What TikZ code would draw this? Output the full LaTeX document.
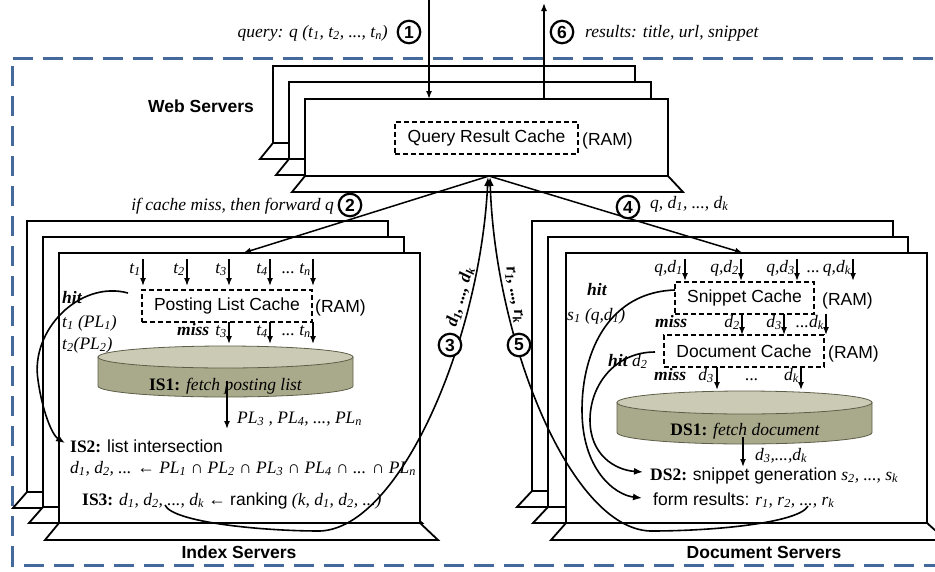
\documentclass[tikz,border=0pt]{standalone}
\usepackage{fontspec}
\setmainfont{Liberation Serif}
\setsansfont{Liberation Sans}
\usetikzlibrary{arrows.meta}
\newcommand\fs{\fontsize{17.5}{21}\selectfont}
\newcommand\lsub[1]{\textsubscript{#1}}
\definecolor{frameblue}{HTML}{44699A}
\definecolor{cyltop}{HTML}{CBCBB5}
\definecolor{cylside}{HTML}{A9A98B}
\definecolor{cyledge}{HTML}{5E5E48}
\tikzset{
  srv/.style={draw=black, fill=white, line width=1.8pt, line join=miter},
  bluedash/.style={draw=frameblue, line width=3pt, dash pattern=on 20pt off 10pt},
  cachebox/.style={draw=black, line width=1.6pt, dash pattern=on 5pt off 3pt, inner sep=0pt, font=\fs\sffamily},
  lab/.style={inner sep=0pt, font=\fs\itshape},
  blab/.style={inner sep=0pt, font=\fs\itshape\bfseries},
  sanslab/.style={inner sep=0pt, font=\fs\sffamily},
  srvtitle/.style={inner sep=0pt, font=\fs\sffamily\bfseries},
  circ/.style={circle, draw=black, line width=2.2pt, fill=white, inner sep=0pt, minimum size=22.5pt, font=\fs\sffamily\bfseries},
  arr/.style={line width=1.5pt, -{Latex[length=8pt,width=6pt]}},
  hitarr/.style={line width=1.6pt, -{Latex[length=9pt,width=7pt]}},
}
% x1 y1 x2 y2 dl dr h
\newcommand\srvbox[7]{%
  \path[srv] (#1,#4) -- ({#1-#5},{#4+#7}) -- ({#3+#6},{#4+#7}) -- (#3,#4) -- cycle;
  \path[srv] (#1,#2) rectangle (#3,#4);
}
% cx rx ytop ybot ry
\newcommand\cylshape[5]{%
  \path[fill=cylside, draw=cyledge, line width=0.8pt] ({#1-#2},#3) -- ({#1-#2},#4)
     arc[start angle=180, end angle=0, x radius=#2, y radius=#5] -- ({#1+#2},#3) -- cycle;
  \path[fill=cyltop, draw=cyledge, line width=0.8pt] (#1,#3) ellipse [x radius=#2, y radius=#5];
}
\begin{document}
\begin{tikzpicture}[x=1pt,y=-1pt]
\useasboundingbox (0,0) rectangle (935,571);
\clip (0,0) rectangle (935,571);

% outer frame
\draw[bluedash] (12.5,58.5) -- (960,58.5);
\draw[bluedash] (12.5,66) -- (12.5,565) -- (960,565);

% web servers
\srvbox{273}{66}{635}{143}{13}{15}{16}
\srvbox{289}{82}{651}{159}{13}{15}{16}
\srvbox{305}{99}{668}{176}{13}{15}{16}
% index servers
\srvbox{27}{221}{388}{492}{14}{18}{16}
\srvbox{43}{237}{404}{507}{14}{18}{16}
\srvbox{59}{253}{420}{523}{14}{18}{17}
% document servers
\srvbox{532}{221}{893}{491}{15}{19}{16}
\srvbox{548}{237}{908}{507}{15}{19}{16}
\srvbox{566}{253}{927}{523}{15}{19}{17}

% titles
\node[srvtitle, anchor=base west] (wslab) at (148,112) {Web Servers};
\node[srvtitle, anchor=base] (islab) at (239,558) {Index Servers};
\node[srvtitle, anchor=base] (dslab) at (764,558) {Document Servers};

% web server content
\node[cachebox, minimum width=183pt, minimum height=32pt] (qrc) at (486.5,138) {Query Result Cache};
\node[sanslab, anchor=base west] (qram) at (582,145) {(RAM)};

\coordinate (qin) at (429,-2);
\coordinate (wtop1) at (429,99);
\draw[arr] (qin) -- (wtop1);
\node[lab, anchor=base east] (qlab) at (388,37) {query: q (t\lsub{1}, t\lsub{2}, ..., t\lsub{n})};
\node[circ] (c1) at (409,32) {1};

\coordinate (wtop6) at (544,99);
\coordinate (rout) at (544,3);
\draw[arr] (wtop6) -- (rout);
\node[circ] (c6) at (562,32) {6};
\node[lab, anchor=base west] (rlab) at (585,37) {results: title, url, snippet};

\coordinate (wsb) at (489,176);
\coordinate (ist) at (243,253);
\coordinate (dst) at (743,253);
\draw[arr] (wsb) -- (ist);
\draw[arr] (wsb) -- (dst);
\node[circ] (c2) at (350,205) {2};
\node[lab, anchor=base east] (l2) at (334,210) {if cache miss, then forward q};
\node[circ] (c4) at (628,207) {4};
\node[lab, anchor=base west] (l4) at (650,208) {q, d\lsub{1}, ..., d\lsub{k}};

% ---------------- index server content
\node[cachebox, minimum width=170pt, minimum height=32pt] (plc) at (227,306) {Posting List Cache};
\node[sanslab, anchor=base west] (pram) at (315,312) {(RAM)};
\foreach \x [count=\i] in {143,187,229,270,313} {
  \coordinate (ia\i) at (\x,259); \coordinate (ib\i) at (\x,286);
  \draw[arr] (ia\i) -- (ib\i);
}
\node[lab, anchor=base east] (it1) at (141,273) {t\lsub{1}};
\node[lab, anchor=base east] (it2) at (185,273) {t\lsub{2}};
\node[lab, anchor=base east] (it3) at (227,273) {t\lsub{3}};
\node[lab, anchor=base east] (it4) at (268,273) {t\lsub{4}};
\node[lab, anchor=base east] (itn) at (311,273) {...\ t\lsub{n}};

\foreach \x [count=\i] in {229,270,313} {
  \coordinate (ic\i) at (\x,322); \coordinate (id\i) at (\x,344);
  \draw[arr] (ic\i) -- (id\i);
}
\node[blab, anchor=base west] (imiss) at (177,335) {miss};
\node[lab, anchor=base east] (im3) at (227,335) {t\lsub{3}};
\node[lab, anchor=base east] (im4) at (268,335) {t\lsub{4}};
\node[lab, anchor=base east] (imn) at (311,335) {...\ t\lsub{n}};

\cylshape{225.5}{127.5}{357}{386}{11}
\node[lab, anchor=base] (is1) at (225.5,390) {\textbf{\upshape IS1:} fetch posting list};
\coordinate (is1o) at (227,381);
\coordinate (is2i) at (227,429);
\draw[arr] (is1o) -- (is2i);
\node[lab, anchor=base west] (pll) at (237,423) {PL\lsub{3} , PL\lsub{4}, ..., PL\lsub{n}};

\node[lab, anchor=base west] (is2) at (70,452) {\textbf{\upshape IS2:} \textsf{\upshape list intersection}};
\node[lab, anchor=base west] (isect) at (70,473) {d\lsub{1}, d\lsub{2}, ... {\upshape ←} PL\lsub{1} {\upshape ∩} PL\lsub{2} {\upshape ∩} PL\lsub{3} {\upshape ∩} PL\lsub{4} {\upshape ∩} ... {\upshape ∩} PL\lsub{n}};
\node[lab, anchor=base west] (is3) at (82,505) {\textbf{\upshape IS3:} d\lsub{1}, d\lsub{2}, ..., d\lsub{k} {\upshape ←} \textsf{\upshape ranking} (k, d\lsub{1}, d\lsub{2}, ...)};

\node[blab, anchor=base west] (ihit) at (62,303) {hit};
\node[lab, anchor=base west] (ipl1) at (62,327) {t\lsub{1} (PL\lsub{1})};
\node[lab, anchor=base west] (ipl2) at (62,349) {t\lsub{2}(PL\lsub{2})};
\coordinate (ihs) at (128,293);
\coordinate (ihe) at (65,443);
\draw[hitarr] (ihs) .. controls (80,280) and (30,330) .. (38,380) .. controls (42,410) and (52,435) .. (ihe);

% ---------------- document server content
\node[cachebox, minimum width=139pt, minimum height=32pt] (snc) at (744.5,298) {Snippet Cache};
\node[sanslab, anchor=base west] (sram) at (822,305) {(RAM)};
\node[cachebox, minimum width=160pt, minimum height=32pt] (dcc) at (744,351) {Document Cache};
\node[sanslab, anchor=base west] (dram) at (828,358) {(RAM)};

\foreach \x [count=\i] in {685,741,797,853} {
  \coordinate (da\i) at (\x,259); \coordinate (db\i) at (\x,281);
  \draw[arr] (da\i) -- (db\i);
}
\node[lab, anchor=base east] (dq1) at (683,272) {q,d\lsub{1}};
\node[lab, anchor=base east] (dq2) at (739,272) {q,d\lsub{2}};
\node[lab, anchor=base east] (dq3) at (795,272) {q,d\lsub{3}};
\node[lab, anchor=base east] (dqk) at (851,272) {...\,q,d\lsub{k}};

\foreach \x [count=\i] in {742,784,826} {
  \coordinate (dc\i) at (\x,314); \coordinate (dd\i) at (\x,335);
  \draw[arr] (dc\i) -- (dd\i);
}
\node[blab, anchor=base west] (dmiss1) at (655,327) {miss};
\node[lab, anchor=base east] (dm2) at (740,327) {d\lsub{2}};
\node[lab, anchor=base east] (dm3) at (782,327) {d\lsub{3}};
\node[lab, anchor=base east] (dmk) at (824,327) {...d\lsub{k}};

\foreach \x [count=\i] in {717,801} {
  \coordinate (de\i) at (\x,367); \coordinate (df\i) at (\x,390);
  \draw[arr] (de\i) -- (df\i);
}
\node[blab, anchor=base west] (dmiss2) at (654,380) {miss};
\node[lab, anchor=base east] (dn3) at (714,380) {d\lsub{3}};
\node[lab, anchor=base] (dndots) at (752,380) {...};
\node[lab, anchor=base east] (dnk) at (799,380) {d\lsub{k}};

\cylshape{744.5}{127.5}{402.5}{432.5}{11.5}
\node[lab, anchor=base] (ds1) at (745,435) {\textbf{\upshape DS1:} fetch document};
\coordinate (ds1o) at (743,437);
\coordinate (ds2i) at (743,467);
\draw[arr] (ds1o) -- (ds2i);
\node[lab, anchor=base west] (d3k) at (755,460) {d\lsub{3},...,d\lsub{k}};

\node[lab, anchor=base west] (ds2) at (650,480) {\textbf{\upshape DS2:} \textsf{\upshape snippet generation} s\lsub{2}, ..., s\lsub{k}};
\node[lab, anchor=base west] (form) at (653,505) {\textsf{\upshape form results:} r\lsub{1}, r\lsub{2}, ..., r\lsub{k}};

\node[blab, anchor=base west] (dhit1) at (587,295) {hit};
\node[lab, anchor=base west] (ds1q) at (567,320) {s\lsub{1} (q,d\lsub{1})};
\node[lab, anchor=base west] (dhit2) at (608,366) {\textbf{hit} d\lsub{2}};

\coordinate (dh1s) at (675,290);
\coordinate (dh1e) at (642,498);
\draw[hitarr] (dh1s) .. controls (610,292) and (582,350) .. (582,410) .. controls (582,470) and (615,495) .. (dh1e);
\coordinate (dh2s) at (655,352);
\coordinate (dh2e) at (643,472);
\draw[hitarr] (dh2s) .. controls (615,352) and (590,385) .. (590,420) .. controls (590,455) and (615,470) .. (dh2e);

% ---------------- returns 3 and 5
\coordinate (c3s) at (165,505);
\coordinate (c3e) at (488,177);
\draw[hitarr] (c3s) .. controls (172,522) and (260,531) .. (320,531) .. controls (400,528) and (480,340) .. (c3e);
\coordinate (c5s) at (808,506);
\coordinate (c5e) at (490,177);
\draw[hitarr] (c5s) .. controls (800,522) and (720,531) .. (650,531) .. controls (570,528) and (495,340) .. (c5e);
\node[circ] (c3) at (450,345) {3};
\node[circ] (c5) at (519,345) {5};
\node[blab, rotate=74] (l3) at (460,297) {d\lsub{1}, ..., d\lsub{k}};
\node[blab, rotate=-80] (l5) at (514,295) {r\lsub{1}, ..., r\lsub{k}};
\end{tikzpicture}
\end{document}
